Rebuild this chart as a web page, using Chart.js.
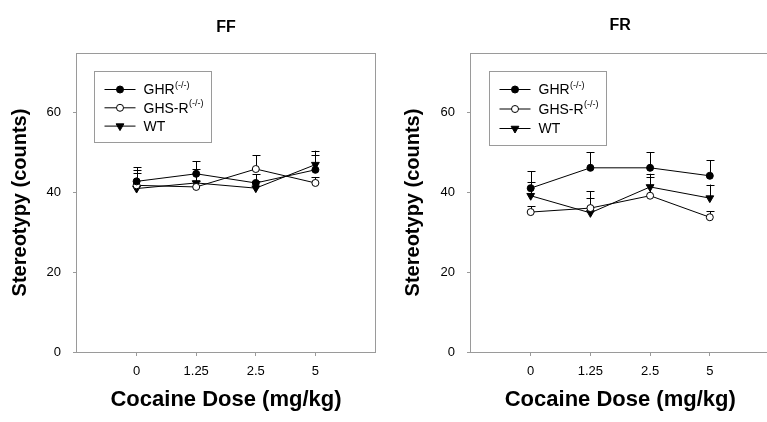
<!DOCTYPE html>
<html>
<head>
<meta charset="utf-8">
<script src="https://cdn.jsdelivr.net/npm/chart.js@4/dist/chart.umd.min.js"></script>
<style>
  body { margin: 0; background: #fff; }
  #wrap { position: relative; width: 767px; height: 422px; overflow: hidden; }
  canvas { position: absolute; top: 0; }
</style>
</head>
<body>
<div id="wrap">
  <canvas id="ffChart" width="383" height="422" style="left:0"></canvas>
  <canvas id="frChart" width="392" height="422" style="left:383px"></canvas>
</div>
<script>
// categories and ticks
const doses = ['0', '1.25', '2.5', '5'];
const yTicks = [0, 20, 40, 60];
const seriesNames = ['GHR', 'GHS-R', 'WT'];
const seriesSup = ['(-/-)', '(-/-)', ''];

// FF panel: means and upper error (SEM)
const ffGHR = [42.8, 44.7, 42.4, 45.7];
const ffGHRErr = [3.5, 3.1, 2.2, 3.6];
const ffGHSR = [41.8, 41.4, 45.9, 42.4];
const ffGHSRErr = [3.8, 1.5, 3.5, 1.5];
const ffWT = [41.0, 42.4, 41.1, 47.0];
const ffWTErr = [3.8, 3.5, 1.8, 3.5];

// FR panel
const frGHR = [41.1, 46.2, 46.2, 44.2];
const frGHRErr = [4.2, 3.9, 3.9, 3.9];
const frGHSR = [35.1, 36.1, 39.2, 33.8];
const frGHSRErr = [1.5, 4.2, 4.7, 1.5];
const frWT = [39.2, 34.9, 41.4, 38.6];
const frWTErr = [3.5, 3.7, 3.3, 3.4];

const FONT = "'Liberation Sans', Arial, sans-serif";
const AXIS_GREY = '#9a9a9a';

// marker styles per series
const markers = [
  { pointStyle: 'circle', radius: 3.5, fill: '#000', rotation: 0 },
  { pointStyle: 'circle', radius: 3.5, fill: '#fff', rotation: 0 },
  { pointStyle: 'triangle', radius: 4.5, fill: '#000', rotation: 180 }
];

// upper error bars, drawn under the markers
const errorBars = {
  id: 'errorBars',
  beforeDatasetsDraw(chart) {
    const ctx = chart.ctx;
    const yScale = chart.scales.y;
    ctx.save();
    ctx.strokeStyle = '#000';
    ctx.lineWidth = 1;
    chart.data.datasets.forEach((ds, i) => {
      const meta = chart.getDatasetMeta(i);
      meta.data.forEach((pt, j) => {
        const top = yScale.getPixelForValue(ds.data[j].y + ds.errors[j]);
        const x = Math.round(pt.x) + 0.5;
        ctx.beginPath();
        ctx.moveTo(x, pt.y);
        ctx.lineTo(x, top);
        ctx.moveTo(x - 4, Math.round(top) + 0.5);
        ctx.lineTo(x + 4, Math.round(top) + 0.5);
        ctx.stroke();
      });
    });
    ctx.restore();
  }
};

// grey frame round the plot area, panel title above it
const frame = {
  id: 'frame',
  beforeDatasetsDraw(chart, args, opts) {
    const a = chart.chartArea;
    const ctx = chart.ctx;
    ctx.save();
    ctx.strokeStyle = AXIS_GREY;
    ctx.lineWidth = 1;
    const l = Math.round(a.left) - 0.5, r = Math.round(a.right) + 0.5;
    const t = Math.round(a.top) + 0.5, b = Math.round(a.bottom) + 0.5;
    ctx.strokeRect(l, t, r - l, b - t);
    ctx.fillStyle = '#000';
    ctx.font = 'bold 16px ' + FONT;
    ctx.textAlign = 'center';
    ctx.textBaseline = 'middle';
    ctx.fillText(opts.title, (a.left + a.right) / 2, opts.titleY);
    ctx.restore();
  }
};

// boxed legend with superscripts
const boxLegend = {
  id: 'boxLegend',
  afterDatasetsDraw(chart, args, opts) {
    const ctx = chart.ctx;
    const a = chart.chartArea;
    const x0 = Math.round(a.left + opts.dx) + 0.5;
    const y0 = Math.round(a.top + opts.dy) + 0.5;
    ctx.save();
    ctx.fillStyle = '#fff';
    ctx.fillRect(x0, y0, opts.w, opts.h);
    ctx.strokeStyle = AXIS_GREY;
    ctx.lineWidth = 1;
    ctx.strokeRect(x0, y0, opts.w, opts.h);
    seriesNames.forEach((name, i) => {
      const cy = y0 + 18 + i * opts.gap;
      ctx.strokeStyle = '#000';
      ctx.beginPath();
      ctx.moveTo(x0 + 10, cy);
      ctx.lineTo(x0 + 41, cy);
      ctx.stroke();
      const m = markers[i];
      ctx.fillStyle = m.fill;
      Chart.helpers.drawPoint(ctx, {
        pointStyle: m.pointStyle, radius: m.radius, rotation: m.rotation, borderWidth: 1
      }, x0 + 25.5, cy);
      ctx.fillStyle = '#000';
      ctx.textBaseline = 'middle';
      ctx.textAlign = 'left';
      ctx.font = '14px ' + FONT;
      ctx.fillText(name, x0 + 49, cy + 1);
      if (seriesSup[i]) {
        const w = ctx.measureText(name).width;
        ctx.font = '9px ' + FONT;
        ctx.fillText(seriesSup[i], x0 + 49 + w + 0.5, cy - 4);
      }
    });
    ctx.restore();
  }
};

function makeDataset(i, values, errors) {
  const m = markers[i];
  return {
    label: seriesNames[i],
    data: values.map((v, k) => ({ x: k, y: v })),
    errors: errors,
    borderColor: '#000',
    borderWidth: 1,
    pointStyle: m.pointStyle,
    pointRadius: m.radius,
    pointRotation: m.rotation,
    pointBackgroundColor: m.fill,
    pointBorderColor: '#000',
    pointBorderWidth: 1,
    tension: 0,
    fill: false
  };
}

function makeChart(id, title, sets, cfg) {
  return new Chart(document.getElementById(id), {
    type: 'line',
    data: { datasets: sets },
    plugins: [frame, errorBars, boxLegend],
    options: {
      responsive: false,
      animation: false,
      devicePixelRatio: 1,
      layout: { padding: { left: 0, right: cfg.padRight, top: 53, bottom: 0 } },
      plugins: {
        legend: { display: false },
        tooltip: { enabled: false },
        title: { display: false },
        frame: { title: title, titleY: cfg.titleY },
        boxLegend: cfg.legend
      },
      scales: {
        x: {
          type: 'linear',
          min: -1,
          max: 4,
          afterBuildTicks: s => { s.ticks = doses.map((d, k) => ({ value: k })); },
          afterFit: s => { s.height = 70; },
          ticks: {
            callback: v => doses[v],
            color: '#000',
            font: { family: FONT, size: 13 },
            padding: 8,
            maxRotation: 0,
            autoSkip: false
          },
          grid: { drawOnChartArea: false, drawTicks: true, tickLength: 4, color: AXIS_GREY },
          border: { display: false },
          title: {
            display: true,
            text: 'Cocaine Dose (mg/kg)',
            color: '#000',
            font: { family: FONT, size: 22, weight: 'bold' },
            padding: { top: 0, bottom: 9 }
          }
        },
        y: {
          min: 0,
          max: 75,
          afterBuildTicks: s => { s.ticks = yTicks.map(v => ({ value: v })); },
          afterFit: s => { s.width = cfg.yWidth; },
          ticks: {
            color: '#000',
            font: { family: FONT, size: 13 },
            padding: 12
          },
          grid: { drawOnChartArea: false, drawTicks: true, tickLength: 4, color: AXIS_GREY },
          border: { display: false },
          title: {
            display: true,
            text: 'Stereotypy (counts)',
            color: '#000',
            font: { family: FONT, size: 20, weight: 'bold' },
            padding: { top: cfg.yTitlePad, bottom: 0 }
          }
        }
      }
    }
  });
}

makeChart('ffChart', 'FF', [
  makeDataset(0, ffGHR, ffGHRErr),
  makeDataset(1, ffGHSR, ffGHSRErr),
  makeDataset(2, ffWT, ffWTErr)
], { yWidth: 77, yTitlePad: 8, padRight: 8, titleY: 28,
     legend: { dx: 17, dy: 18, w: 117, h: 71, gap: 18.3 } });

makeChart('frChart', 'FR', [
  makeDataset(0, frGHR, frGHRErr),
  makeDataset(1, frGHSR, frGHSRErr),
  makeDataset(2, frWT, frWTErr)
], { yWidth: 88, yTitlePad: 18, padRight: 0, titleY: 26,
     legend: { dx: 18, dy: 18, w: 117, h: 74, gap: 19.5 } });
</script>
</body>
</html>
